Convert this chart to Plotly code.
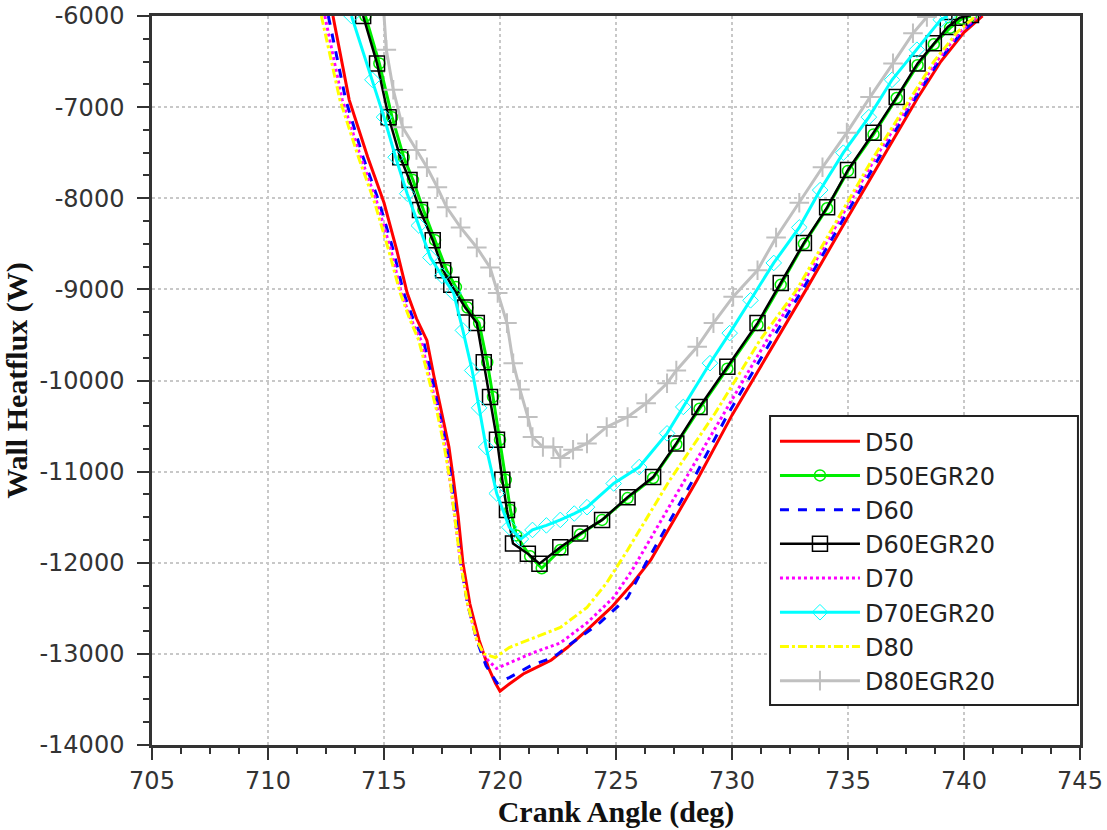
import plotly.graph_objects as go

# ---------------- data ----------------
d50_x = [712.8, 713.5, 714.3, 715.0, 715.55, 716.0, 716.4, 716.85, 717.15, 717.5, 717.8, 718.0, 718.2, 718.4,
         718.7, 719.1, 719.5, 719.8, 720.0, 720.4, 721.0, 721.4, 722.2, 722.9, 723.7, 724.8, 725.7, 726.5,
         728.5, 730.0, 731.9, 733.2, 734.9, 736.5, 738.0, 739.0, 740.0, 740.8]
d50_y = [-6000, -6920, -7550, -8050, -8570, -9040, -9320, -9560, -9950, -10360, -10730, -11100, -11500, -12000,
         -12450, -12850, -13150, -13320, -13410, -13330, -13220, -13170, -13070, -12930, -12750, -12490, -12230, -11970,
         -11090, -10380, -9560, -9000, -8250, -7550, -6900, -6500, -6180, -6000]

d60_x = [712.6, 713.35, 714.1, 714.8, 715.4, 715.85, 716.25, 716.7, 717.05, 717.4, 717.7, 717.9, 718.1, 718.3,
         718.6, 719.0, 719.4, 719.87, 720.4, 721.4, 722.3, 723.1, 724.3, 725.5, 726.3,
         728.3, 729.8, 731.7, 733.05, 734.75, 736.35, 737.9, 738.9, 739.9, 740.7]
d60_y = [-6000, -6920, -7550, -8050, -8570, -9040, -9320, -9560, -9950, -10360, -10730, -11100, -11500, -12000,
         -12450, -12850, -13130, -13320, -13260, -13120, -13040, -12880, -12660, -12380, -12000,
         -11100, -10380, -9560, -9000, -8250, -7550, -6900, -6500, -6180, -6000]

d70_x = [712.45, 713.2, 714.0, 714.7, 715.3, 715.75, 716.15, 716.6, 716.95, 717.35, 717.65, 717.85, 718.05, 718.3,
         718.6, 719.0, 719.4, 719.85, 720.4, 721.4, 722.6, 723.75, 724.9, 725.7,
         727.6, 729.6, 731.5, 732.9, 734.6, 736.2, 737.8, 738.8, 739.8, 740.6]
d70_y = [-6000, -6920, -7550, -8050, -8570, -9040, -9320, -9560, -9950, -10360, -10730, -11100, -11500, -12000,
         -12450, -12850, -13050, -13160, -13100, -12990, -12880, -12660, -12380, -12080,
         -11250, -10380, -9560, -9000, -8250, -7550, -6900, -6500, -6180, -6000]

d80_x = [712.3, 713.1, 713.9, 714.6, 715.2, 715.7, 716.1, 716.5, 716.9, 717.3, 717.6, 717.85, 718.05, 718.3,
         718.6, 719.0, 719.3, 719.8, 720.4, 721.4, 721.85, 722.6, 723.75, 724.6, 725.5,
         727.3, 729.27, 731.2, 732.8, 734.5, 736.1, 737.7, 738.7, 739.7, 740.5]
d80_y = [-6000, -6920, -7550, -8050, -8570, -9040, -9320, -9560, -9950, -10360, -10730, -11100, -11500, -12000,
         -12450, -12850, -13000, -13040, -12930, -12830, -12790, -12710, -12490, -12220, -11860,
         -11100, -10360, -9560, -9000, -8250, -7550, -6900, -6500, -6180, -6000]

d50egr_x = [714.2, 714.8, 715.35, 715.85, 716.25, 716.7, 717.2, 717.7, 718.1, 718.6, 719.1, 719.45, 719.7, 720.0,
            720.25, 720.45, 720.7, 721.3, 721.8, 722.6, 723.45, 724.4, 725.5, 726.6, 727.6, 728.6, 729.8,
            731.1, 732.1, 733.1, 734.1, 735.0, 736.1, 737.1, 738.0, 738.7, 739.4, 739.9, 740.3]
d50egr_y = [-6000, -6520, -7110, -7550, -7800, -8130, -8460, -8790, -8975, -9200, -9370, -9800, -10180, -10650,
            -11090, -11420, -11700, -11930, -12060, -11860, -11690, -11530, -11290, -11070, -10700, -10310, -9870,
            -9390, -8950, -8500, -8110, -7700, -7300, -6900, -6540, -6310, -6130, -6030, -6000]

d60egr_x = [714.1, 714.7, 715.2, 715.7, 716.1, 716.55, 717.1, 717.55, 717.9, 718.5, 719.0, 719.3, 719.57, 719.87,
            720.1, 720.3, 720.56, 721.2, 721.7, 722.6, 723.45, 724.4, 725.5, 726.6, 727.6, 728.6, 729.8,
            731.1, 732.1, 733.1, 734.1, 735.0, 736.1, 737.1, 738.0, 738.7, 739.3, 739.8, 740.3]
d60egr_y = [-6000, -6520, -7110, -7550, -7800, -8130, -8460, -8790, -8950, -9200, -9370, -9800, -10180, -10650,
            -11090, -11420, -11790, -11900, -12010, -11830, -11680, -11530, -11280, -11060, -10690, -10290, -9850,
            -9370, -8930, -8490, -8100, -7690, -7280, -6890, -6520, -6300, -6120, -6020, -5990]

d70egr_x = [713.6, 714.5, 715.0, 715.5, 716.0, 716.5, 717.0, 717.5, 718.0, 718.4, 718.8, 719.1, 719.4, 719.86,
            720.4, 720.9, 721.4, 722.0, 722.6, 723.2, 723.75, 724.9, 726.0, 727.2, 727.9, 729.05, 729.9,
            730.8, 731.8, 732.9, 733.8, 734.8, 735.9, 736.9, 737.97, 739.0, 739.3]
d70egr_y = [-6000, -6700, -7110, -7550, -7950, -8300, -8650, -8850, -9040, -9450, -9890, -10300, -10730, -11240,
            -11610, -11740, -11640, -11590, -11530, -11460, -11390, -11130, -10950, -10580, -10290, -9810, -9480,
            -9120, -8710, -8320, -7910, -7500, -7110, -6700, -6370, -6040, -6000]

d80egr_x = [715.0, 715.1, 715.4, 715.8, 716.4, 716.85, 717.3, 717.7, 718.3, 719.0, 719.57, 719.9, 720.3, 720.57,
            720.86, 721.2, 721.4, 721.85, 722.3, 722.6, 723.15, 723.75, 724.6, 725.5, 726.3, 727.2, 727.6,
            728.5, 729.2, 730.05, 731.1, 731.9, 732.9, 733.9, 734.95, 735.95, 736.94, 737.8, 738.4]
d80egr_y = [-5990, -6370, -6810, -7220, -7470, -7660, -7880, -8100, -8320, -8540, -8760, -9040, -9370, -9810,
            -10100, -10400, -10620, -10730, -10730, -10850, -10760, -10690, -10510, -10400, -10250, -10030, -9890,
            -9630, -9370, -9080, -8790, -8430, -8050, -7660, -7280, -6890, -6520, -6190, -6010]

x_ticks = [705, 710, 715, 720, 725, 730, 735, 740, 745]
y_ticks = [-6000, -7000, -8000, -9000, -10000, -11000, -12000, -13000, -14000]

# ---------------- figure ----------------
fig = go.Figure()

def add(name, x, y, color, dash="solid", width=3, symbol=None, msize=10, mlw=1.5):
    if symbol is None:
        fig.add_trace(go.Scatter(x=x, y=y, name=name, mode="lines",
                                 line=dict(color=color, width=width, dash=dash)))
    else:
        fig.add_trace(go.Scatter(x=x, y=y, name=name, mode="lines+markers",
                                 line=dict(color=color, width=width, dash=dash),
                                 marker=dict(symbol=symbol, size=msize, color=color,
                                             line=dict(color=color, width=mlw))))

add("D50", d50_x, d50_y, "#ff0000")
add("D50EGR20", d50egr_x, d50egr_y, "#00ee00", symbol="circle-open", msize=11, mlw=1.5)
add("D60", d60_x, d60_y, "#0000ff", dash="dash")
add("D60EGR20", d60egr_x, d60egr_y, "#000000", width=2.5, symbol="square-open", msize=15, mlw=1.5)
add("D70", d70_x, d70_y, "#ff00ff", dash="dot")
add("D70EGR20", d70egr_x, d70egr_y, "#00ffff", symbol="diamond-open", msize=12, mlw=1)
add("D80", d80_x, d80_y, "#ffff00", dash="dashdot")
add("D80EGR20", d80egr_x, d80egr_y, "#c0c0c0", symbol="cross-thin-open", msize=14, mlw=2)

tick_font = dict(family="DejaVu Sans", size=24, color="#333333")
title_font = dict(family="Liberation Serif", size=30, color="#111111")

fig.update_xaxes(
    range=[705, 745], tickvals=x_ticks, ticktext=[str(v) for v in x_ticks],
    showline=True, linecolor="#333333", linewidth=3, mirror=True,
    ticks="outside", ticklen=12, tickwidth=2, tickcolor="#333333",
    minor=dict(dtick=1.25, ticks="outside", ticklen=6, tickwidth=1.5, tickcolor="#333333", showgrid=False),
    showgrid=True, gridcolor="#c8c8c8", griddash="dot", gridwidth=1.5,
    zeroline=False, tickfont=tick_font,
    title=dict(text="<b>Crank Angle (deg)</b>", font=title_font, standoff=6),
)
fig.update_yaxes(
    range=[-14000, -6000], tickvals=y_ticks, ticktext=[str(v) for v in y_ticks],
    showline=True, linecolor="#333333", linewidth=2.5, mirror=True,
    ticks="outside", ticklen=12, tickwidth=2, tickcolor="#333333",
    minor=dict(dtick=250, ticks="outside", ticklen=6, tickwidth=1.5, tickcolor="#333333", showgrid=False),
    showgrid=True, gridcolor="#c8c8c8", griddash="dot", gridwidth=1.5,
    zeroline=False, tickfont=tick_font, ticklabelstandoff=8,
    title=dict(text="<b>Wall Heatflux (W)</b>", font=title_font, standoff=4),
)

# legend frame (box behind the legend entries)
fig.add_shape(type="rect", xref="paper", yref="paper",
              x0=0.666, x1=0.9978, y0=0.0549, y1=0.4513,
              fillcolor="white", line=dict(color="#222222", width=2), layer="above")

fig.update_layout(
    width=1107, height=830,
    margin=dict(l=152, r=27, t=16, b=85, autoexpand=False),
    paper_bgcolor="white", plot_bgcolor="white",
    showlegend=True,
    legend=dict(x=0.6713, y=0.447, xanchor="left", yanchor="top",
                bgcolor="rgba(0,0,0,0)", borderwidth=0,
                font=dict(family="DejaVu Sans", size=24, color="#222222"),
                itemwidth=80, tracegroupgap=0),
)

fig.write_html("out.html")
